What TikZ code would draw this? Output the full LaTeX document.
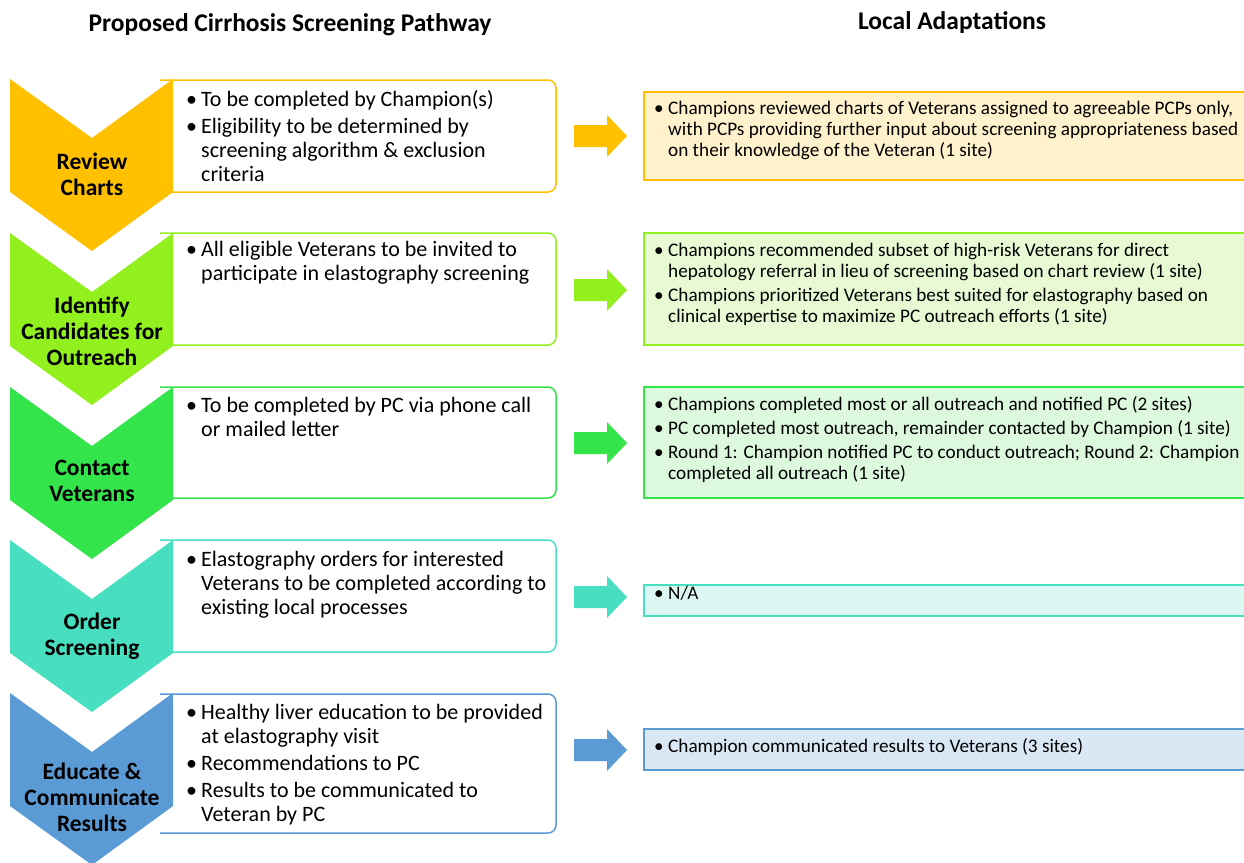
\documentclass[tikz,border=0pt]{standalone}
\usepackage{fontspec}
\setmainfont{Carlito}
\definecolor{cOr}{HTML}{FFC000}
\definecolor{fOr}{HTML}{FFF2CC}
\definecolor{cLi}{HTML}{92F01E}
\definecolor{fLi}{HTML}{E8FAD4}
\definecolor{cGr}{HTML}{33E44A}
\definecolor{fGr}{HTML}{DCF9DE}
\definecolor{cTe}{HTML}{48DFC0}
\definecolor{fTe}{HTML}{DDF8F2}
\definecolor{cBl}{HTML}{5B9BD5}
\definecolor{fBl}{HTML}{DAE7F4}
\newcommand{\bL}{\makebox[15pt][l]{•}}
\newcommand{\bR}{\makebox[14pt][l]{•}}
\newcommand{\chevron}[2]{%
  \fill[#2] (10,#1) -- (92,#1+59) -- (173,#1) -- (173,#1+113) -- (92,#1+172) -- (10,#1+113) -- cycle;}
\newcommand{\leftbox}[3]{%
  \draw[#3, line width=1.5pt, rounded corners=8pt] (160,#1) -- (556,#1) -- (556,#2) -- (160,#2);}
\newcommand{\rightbox}[4]{%
  \draw[#3, fill=#4, line width=1.5pt] (644,#1) rectangle (1250,#2);}
\newcommand{\blockarrow}[2]{%
  \fill[#2] (574,#1-11) -- (607,#1-11) -- (607,#1-21) -- (627,#1) -- (607,#1+21) -- (607,#1+11) -- (574,#1+11) -- cycle;}
\begin{document}
\begin{tikzpicture}[x=1pt,y=-1pt,
  title/.style={font=\fontsize{25.5}{28}\selectfont\bfseries, inner sep=0pt},
  chevlabel/.style={font=\fontsize{23.5}{26}\selectfont\bfseries, align=center, inner sep=0pt},
  ltext/.style={font=\fontsize{22}{24.2}\selectfont, anchor=base west, inner sep=0pt},
  rtext/.style={font=\fontsize{19.2}{21.2}\selectfont, anchor=base west, inner sep=0pt}]
\useasboundingbox[fill=white] (0,0) rectangle (1244,862);

\node[title] (t1) at (290,25) {Proposed Cirrhosis Screening Pathway};
\node[title] (t2) at (952,23) {Local Adaptations};

% left boxes
\leftbox{80}{192}{cOr}
\leftbox{233}{345}{cLi}
\leftbox{387}{498}{cGr}
\leftbox{540}{652}{cTe}
\leftbox{694}{833}{cBl}

% chevrons
\chevron{79}{cOr}
\chevron{233}{cLi}
\chevron{387}{cGr}
\chevron{540}{cTe}
\chevron{693}{cBl}

\node[chevlabel] (c1) at (92,174) {Review\\Charts};
\node[chevlabel] (c2) at (92,331) {Identify\\Candidates for\\Outreach};
\node[chevlabel] (c3) at (92,481) {Contact\\Veterans};
\node[chevlabel] (c4) at (92,636) {Order\\Screening};
\node[chevlabel] (c5) at (92,797) {Educate \&\\Communicate\\Results};

% left texts
\node[ltext] (l1) at (186,106) {\begin{tabular}[t]{@{}l@{}l@{}}
\bL & To be completed by Champion(s)\\[3pt]
\bL & Eligibility to be determined by\\
 & screening algorithm \& exclusion\\
 & criteria\end{tabular}};
\node[ltext] (l2) at (186,256) {\begin{tabular}[t]{@{}l@{}l@{}}
\bL & All eligible Veterans to be invited to\\
 & participate in elastography screening\end{tabular}};
\node[ltext] (l3) at (186,412) {\begin{tabular}[t]{@{}l@{}l@{}}
\bL & To be completed by PC via phone call\\
 & or mailed letter\end{tabular}};
\node[ltext] (l4) at (186,566) {\begin{tabular}[t]{@{}l@{}l@{}}
\bL & Elastography orders for interested\\
 & Veterans to be completed according to\\
 & existing local processes\end{tabular}};
\node[ltext] (l5) at (186,719) {\begin{tabular}[t]{@{}l@{}l@{}}
\bL & Healthy liver education to be provided\\
 & at elastography visit\\[3pt]
\bL & Recommendations to PC\\[3pt]
\bL & Results to be communicated to\\
 & Veteran by PC\end{tabular}};

% arrows
\blockarrow{136}{cOr}
\blockarrow{290}{cLi}
\blockarrow{443}{cGr}
\blockarrow{597}{cTe}
\blockarrow{750}{cBl}

% right boxes
\rightbox{92}{180}{cOr}{fOr}
\rightbox{233}{345}{cLi}{fLi}
\rightbox{387}{498}{cGr}{fGr}
\rightbox{585}{616}{cTe}{fTe}
\rightbox{729}{770}{cBl}{fBl}

\node[rtext] (r1) at (654,114) {\begin{tabular}[t]{@{}l@{}l@{}}
\bR & Champions reviewed charts of Veterans assigned to agreeable PCPs only,\\
 & with PCPs providing further input about screening appropriateness based\\
 & on their knowledge of the Veteran (1 site)\end{tabular}};
\node[rtext] (r2) at (654,256) {\begin{tabular}[t]{@{}l@{}l@{}}
\bR & Champions recommended subset of high-risk Veterans for direct\\
 & hepatology referral in lieu of screening based on chart review (1 site)\\[3pt]
\bR & Champions prioritized Veterans best suited for elastography based on\\
 & clinical expertise to maximize PC outreach efforts (1 site)\end{tabular}};
\node[rtext] (r3) at (654,410) {\begin{tabular}[t]{@{}l@{}l@{}}
\bR & Champions completed most or all outreach and notified PC (2 sites)\\[3pt]
\bR & PC completed most outreach, remainder contacted by Champion (1 site)\\[3pt]
\bR & Round 1: Champion notified PC to conduct outreach; Round 2: Champion\\
 & completed all outreach (1 site)\end{tabular}};
\node[rtext] (r4) at (654,599) {\begin{tabular}[t]{@{}l@{}l@{}}
\bR & N/A\end{tabular}};
\node[rtext] (r5) at (654,752) {\begin{tabular}[t]{@{}l@{}l@{}}
\bR & Champion communicated results to Veterans (3 sites)\end{tabular}};
\end{tikzpicture}
\end{document}
